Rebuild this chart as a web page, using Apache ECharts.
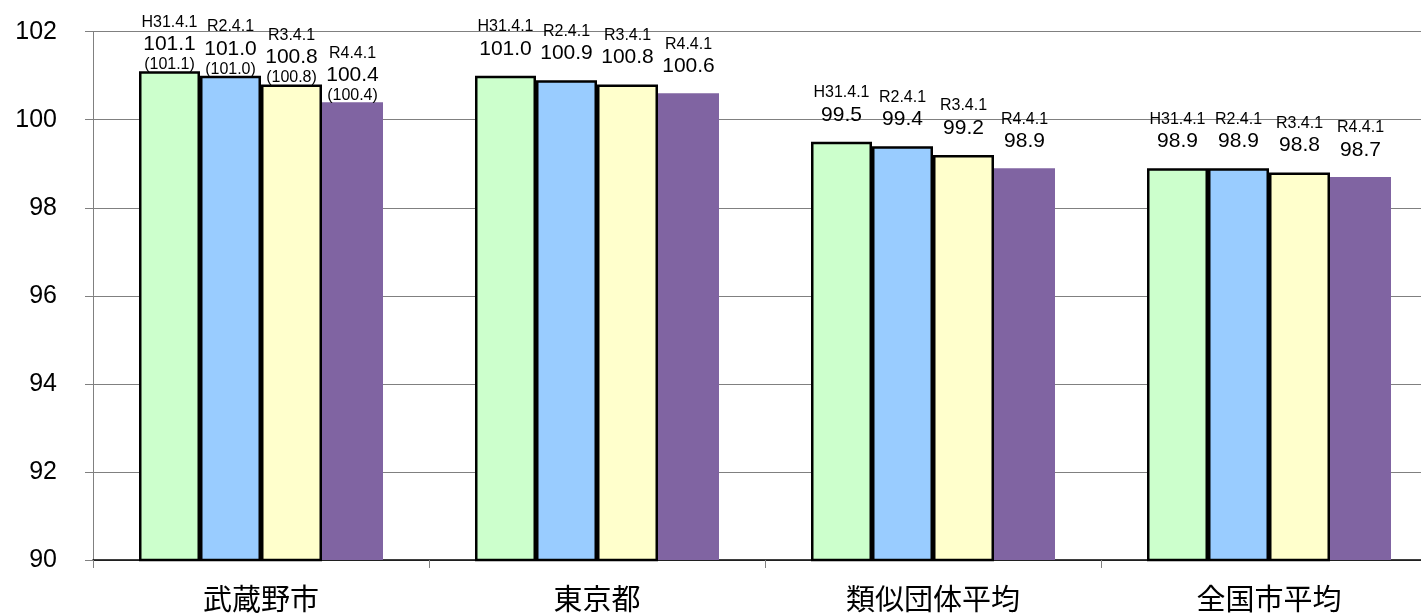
<!DOCTYPE html>
<html>
<head>
<meta charset="utf-8">
<script src="https://cdn.jsdelivr.net/npm/echarts@6/dist/echarts.min.js"></script>
<style>
html,body{margin:0;padding:0;background:#fff;overflow:hidden;width:1421px;height:613px;}
#chart{width:1437px;height:613px;}
</style>
</head>
<body>
<div id="chart"></div>
<script>
const categories = ['武蔵野市', '東京都', '類似団体平均', '全国市平均'];
const seriesNames = ['H31.4.1', 'R2.4.1', 'R3.4.1', 'R4.4.1'];
const h31Values = [101.1, 101.0, 99.5, 98.9];
const r2Values = [101.0, 100.9, 99.4, 98.9];
const r3Values = [100.8, 100.8, 99.2, 98.8];
const r4Values = [100.4, 100.6, 98.9, 98.7];
const musashinoParen = [101.1, 101.0, 100.8, 100.4];
const yTicks = [90, 92, 94, 96, 98, 100, 102];

const allValues = [h31Values, r2Values, r3Values, r4Values];
const colors = ['#CCFFCC', '#99CCFF', '#FFFFCC', '#8064A2'];
const borders = [2.5, 2.5, 2.5, 0];
const numFont = 'Liberation Sans, Arial, sans-serif';

const chart = echarts.init(document.getElementById('chart'));

const series = allValues.map((vals, s) => ({
  name: seriesNames[s],
  type: 'bar',
  barWidth: 61,
  barGap: '0%',
  itemStyle: { color: colors[s], borderColor: '#000', borderWidth: borders[s] },
  data: vals.map((v, i) => i === 0 ? { value: v, label: { distance: -2 } } : v),
  label: {
    show: true,
    position: 'top',
    distance: 15,
    color: '#000',
    fontFamily: numFont,
    formatter: function (p) {
      let t = '{d|' + seriesNames[p.seriesIndex] + '}\n{v|' + Number(p.value).toFixed(1) + '}';
      if (p.dataIndex === 0) t += '\n{p|(' + musashinoParen[p.seriesIndex].toFixed(1) + ')}';
      return t;
    },
    rich: {
      d: { fontSize: 16, lineHeight: 20, fontFamily: numFont, color: '#000' },
      v: { fontSize: 21, lineHeight: 24, fontFamily: numFont, color: '#000' },
      p: { fontSize: 16, lineHeight: 17, fontFamily: numFont, color: '#000' }
    }
  }
}));

chart.setOption({
  animation: false,
  backgroundColor: '#fff',
  grid: { left: 93, right: 0, top: 31.7, bottom: 52, containLabel: false },
  xAxis: {
    type: 'category',
    data: categories,
    axisLine: { lineStyle: { color: '#000', width: 1.5 } },
    axisTick: { show: true, length: 8, lineStyle: { color: '#808080' } },
    axisLabel: {
      fontSize: 29,
      margin: 24,
      color: '#000',
      fontFamily: 'Noto Sans CJK JP, sans-serif'
    }
  },
  yAxis: {
    type: 'value',
    min: yTicks[0],
    max: yTicks[yTicks.length - 1],
    interval: 2,
    axisLine: { show: true, lineStyle: { color: '#808080' } },
    axisTick: { show: true, length: 8, lineStyle: { color: '#808080' } },
    splitLine: { show: true, lineStyle: { color: '#808080', width: 1 } },
    axisLabel: { fontSize: 25, margin: 36, color: '#000', fontFamily: numFont }
  },
  series: series
});
</script>
</body>
</html>
